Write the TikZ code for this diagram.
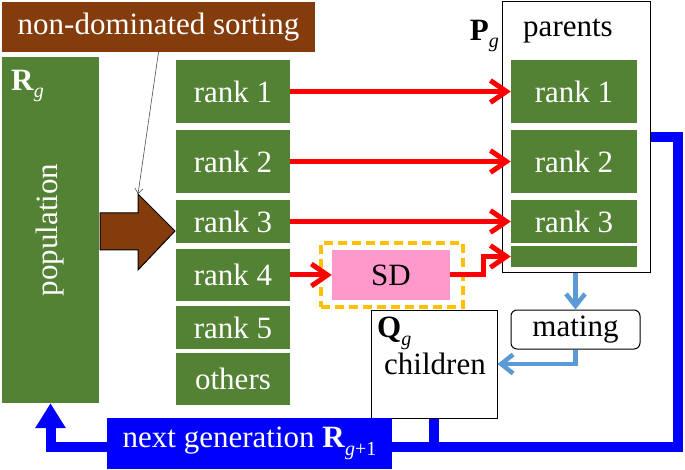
\documentclass[tikz,border=0pt]{standalone}
\usepackage{fontspec}
\setmainfont{Liberation Serif}
\usetikzlibrary{arrows.meta, calc, positioning}

\definecolor{rankgreen}{HTML}{548235}
\definecolor{sortbrown}{HTML}{843C0C}
\definecolor{sdpink}{HTML}{FF99CC}
\definecolor{sdorange}{HTML}{FFC000}
\definecolor{mateblue}{HTML}{5B9BD5}
\definecolor{loopblue}{HTML}{0000FF}

\newcommand{\idx}[2]{\textbf{#1}\raisebox{-0.25em}{\fontsize{20}{20}\selectfont #2}}

\begin{document}
\begin{tikzpicture}[x=1pt, y=-1pt]
  \tikzstyle{every node} = [font=\fontsize{31}{33}\selectfont, inner sep=0pt];
  \tikzstyle{rank} = [fill=rankgreen, text=white, minimum width=114pt];
  \tikzstyle{prank} = [fill=rankgreen, text=white, minimum width=126pt];
  \tikzstyle{redarrow} = [draw=red, line width=5pt, -{Straight Barb[length=16pt, width=22pt, line width=5pt]}];
  \tikzstyle{matearrow} = [draw=mateblue, line width=4.5pt, -{Straight Barb[length=12pt, width=19pt, line width=4.5pt]}];
  \tikzstyle{loopline} = [draw=loopblue, line width=10pt];

  \useasboundingbox (0,0) rectangle (685,470);

  \node[fill=sortbrown, text=white, minimum width=313pt, minimum height=50pt] (sort) at (158.5,27) {non-dominated sorting};
  \node[fill=rankgreen, minimum width=97pt, minimum height=346pt] (pop) at (50.5,230) {};
  \node[text=white, rotate=90] (poptext) at (pop.center) {population};
  \node[text=white, anchor=west] (rg) at (11,86) {\idx{R}{\textit{g}}};

  % block arrow
  \draw[fill=sortbrown, line width=1pt] (100,213) -- (138,213) -- (138,194) coordinate (head)
    -- (175,231) -- (138,270) -- (138,250) -- (100,250) -- cycle;
  \draw[gray!60!black, line width=0.6pt, -{Straight Barb[length=5pt, width=8pt]}] (sort.south) -- (head);

  \node[rank, minimum height=63pt] (r1) at (233,91.5) {rank 1};
  \node[rank, minimum height=63pt] (r2) at (233,161.5) {rank 2};
  \node[rank, minimum height=43pt] (r3) at (233,221.5) {rank 3};
  \node[rank, minimum height=52pt] (r4) at (233,275) {rank 4};
  \node[rank, minimum height=43pt] (r5) at (233,327.5) {rank 5};
  \node[rank, minimum height=52pt] (r6) at (233,379) {others};

  \node[draw, line width=1pt, minimum width=148pt, minimum height=271pt] (par) at (576,137.5) {};
  \node (partext) at (568,31) {parents};
  \node[anchor=east] (pg) at (499,36) {\idx{P}{\textit{g}}};
  \node[prank, minimum height=63pt] (p1) at (574,91.5) {rank 1};
  \node[prank, minimum height=63pt] (p2) at (574,161.5) {rank 2};
  \node[prank, minimum height=43pt] (p3) at (574,221.5) {rank 3};
  \node[prank, minimum height=21pt] (p4) at (574,256.5) {};

  \node[draw=sdorange, line width=3.5pt, dash pattern=on 9pt off 5pt, minimum width=142pt, minimum height=64pt] (sdbox) at (392,275) {};
  \node[fill=sdpink, minimum width=118pt, minimum height=50pt] (sd) at (391,275) {SD};

  \node[draw, line width=1pt, rounded corners=6pt, minimum width=129pt, minimum height=39pt] (mate) at (575.5,329.5) {mating};
  \node[draw, line width=1pt, minimum width=126pt, minimum height=108pt] (child) at (434,364) {};
  \node (childtext) at (435,364) {children};
  \node[anchor=west] (qg) at (377,333) {\idx{Q}{\textit{g}}};

  \node[fill=loopblue, text=white, minimum width=285pt, minimum height=51pt] (next) at (249.5,443.5) {next generation \idx{R}{\textit{g}+1}};

  \draw[redarrow] (r1.east) -- (p1.west);
  \draw[redarrow] (r2.east) -- (p2.west);
  \draw[redarrow] (r3.east) -- (p3.west);
  \draw[redarrow] (r4.east) -- (sd.west);
  \draw[redarrow] (sd.east) -- ++(33,0) |- (p4.west);

  \draw[matearrow] (mate.north |- par.south) -- (mate.north);
  \draw[matearrow] (mate.south) |- (child.east);

  \draw[loopline] (par.east) -- (678,137.5) |- (next.east |- 0,447);
  \draw[loopline] (child.south) -- (child.south |- 0,447);
  \draw[loopline, -{Triangle[length=25pt, width=29pt]}] (next.west |- 0,447) -| (pop.south);
\end{tikzpicture}
\end{document}
